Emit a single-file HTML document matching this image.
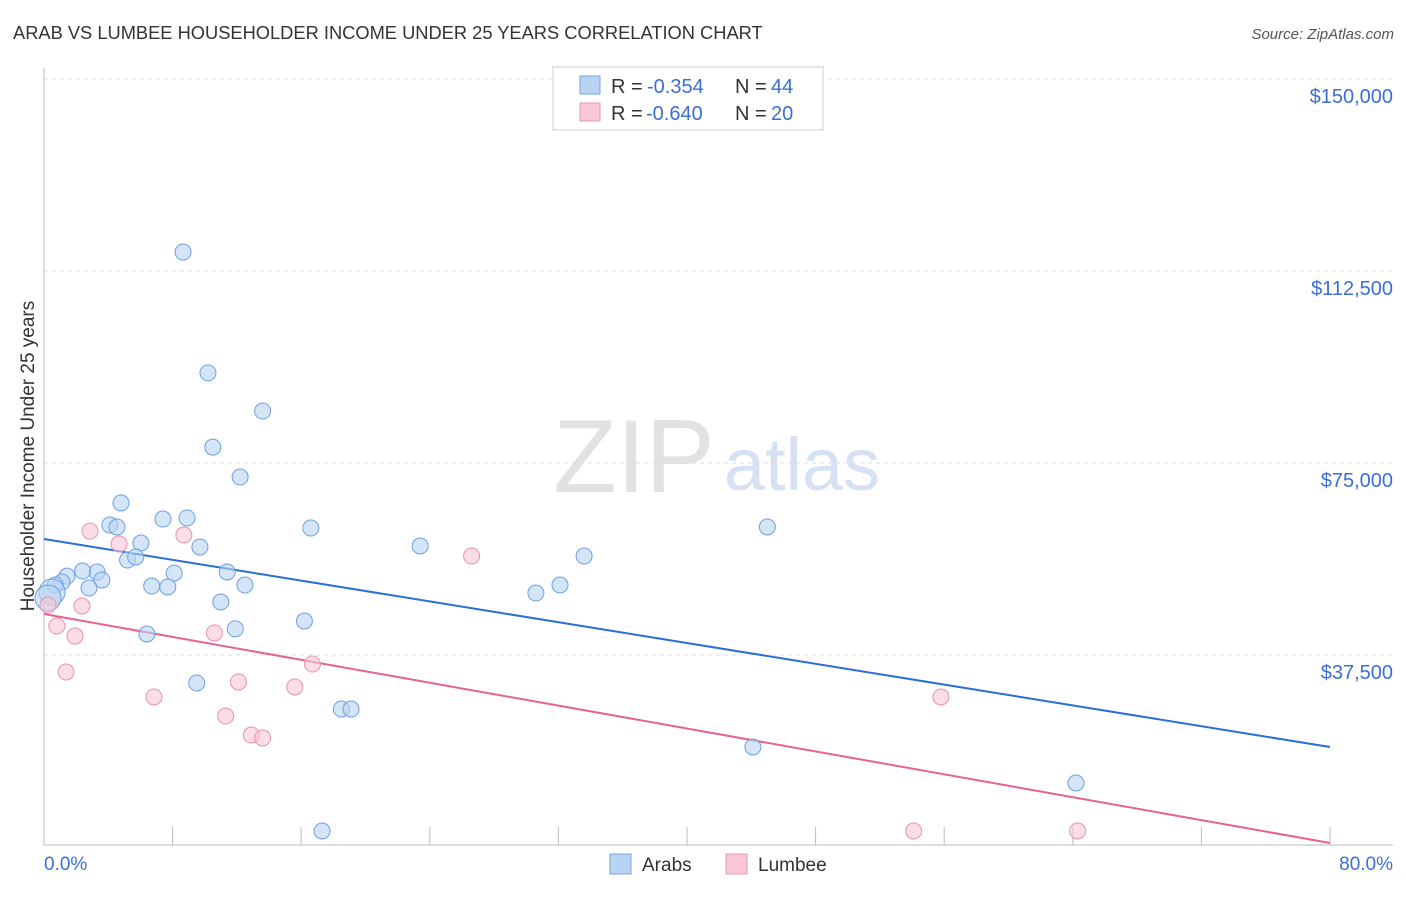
<!DOCTYPE html>
<html><head><meta charset="utf-8"><style>
body{margin:0;background:#fff;font-family:"Liberation Sans",sans-serif;}
svg text{font-family:"Liberation Sans",sans-serif;}
</style></head><body>
<svg id="chart" width="1406" height="892">
<text x="13" y="39" font-size="18.3" fill="#333">ARAB VS LUMBEE HOUSEHOLDER INCOME UNDER 25 YEARS CORRELATION CHART</text>
<text x="1394" y="39" font-size="15" fill="#555" text-anchor="end" font-style="italic">Source: ZipAtlas.com</text>
<text transform="translate(34,456) rotate(-90)" font-size="19" fill="#333" text-anchor="middle">Householder Income Under 25 years</text>
<g><text x="634" y="492" font-size="104" fill="#e2e2e2" font-family="Liberation Serif" text-anchor="middle">ZIP</text><text x="802" y="490" font-size="74" fill="#d6e2f3" text-anchor="middle">atlas</text></g>
<g id="grid"></g><g id="axes"></g><g id="lines"></g><g id="pts"></g>
<g>
<rect x="553" y="67" width="270" height="63" fill="#fff" stroke="#ccc"/>
<rect x="580" y="76" width="20" height="18" fill="#b8d3f4" stroke="#7aa6e0"/>
<text x="611" y="93" font-size="20" fill="#333">R =</text><text x="647" y="93" font-size="20" fill="#3b6fd4">-0.354</text>
<text x="735" y="93" font-size="20" fill="#333">N =</text><text x="771" y="93" font-size="20" fill="#3b6fd4">44</text>
<rect x="580" y="103" width="20" height="18" fill="#f8c6d6" stroke="#e899b3"/>
<text x="611" y="120" font-size="20" fill="#333">R =</text><text x="646" y="120" font-size="20" fill="#3b6fd4">-0.640</text>
<text x="735" y="120" font-size="20" fill="#333">N =</text><text x="771" y="120" font-size="20" fill="#3b6fd4">20</text>
</g>
<g>
<rect x="610" y="854" width="21" height="20" fill="#b8d3f4" stroke="#7aa6e0"/>
<text x="642" y="871" font-size="19" fill="#333">Arabs</text>
<rect x="726" y="854" width="21" height="20" fill="#f8c6d6" stroke="#e899b3"/>
<text x="758" y="871" font-size="19" fill="#333">Lumbee</text>
</g>
</svg>
<script>
const yTicks=[37500,75000,112500,150000];
const yTickLabels=["$37,500","$75,000","$112,500","$150,000"];
const arabX=[8.65,10.2,13.6,10.5,12.2,4.79,4.1,4.54,7.4,8.9,6.03,9.7,16.6,23.4,33.6,45.0,5.2,5.7,11.4,8.1,3.3,2.4,1.43,3.6,1.12,0.7,0.5,2.8,6.7,7.7,12.5,30.6,32.1,11.0,11.9,6.4,16.2,9.5,18.5,19.1,44.1,64.2,17.3,0.25];
const arabY=[116200,92600,85150,78100,72260,67200,62900,62500,64060,64260,59370,58600,62300,58800,56830,62500,56050,56640,53700,53500,53700,53900,52900,52150,51750,51170,49800,50580,50970,50780,51170,49600,51170,47850,42600,41600,44140,32030,26950,26950,19530,12500,3125,48630];
const lumX=[2.86,4.67,8.7,26.6,2.36,0.25,0.8,1.93,10.6,1.37,16.7,12.1,15.6,6.84,11.3,12.9,13.6,55.8,54.1,64.3];
const lumY=[61700,59170,60930,56830,47070,47260,43160,41200,41800,34180,35740,32230,31250,29300,25580,21870,21290,29300,3125,3125];
const arabTrend=[60150,19530];
const lumTrend=[45500,780];
const X0=44,X1=1330,Y0=847,PPU=192/37500;
const sx=v=>X0+(X1-X0)*v/80, sy=v=>Y0-v*PPU;
const NS="http://www.w3.org/2000/svg";
function mk(t,a,p){const e=document.createElementNS(NS,t);for(const k in a)e.setAttribute(k,a[k]);p.appendChild(e);return e;}
const grid=document.getElementById('grid'),axes=document.getElementById('axes');
yTicks.forEach((v,i)=>{
 const l=mk('line',{x1:44,x2:1393,y1:sy(v),y2:sy(v),stroke:'#ddd','stroke-dasharray':'4,4'},grid);
 
 
 const t=mk('text',{x:1393,y:sy(v)+24,'font-size':20,fill:'#3b6fd4','text-anchor':'end'},axes);
 t.textContent=yTickLabels[i];
 
 
});
mk('line',{x1:44,x2:44,y1:68,y2:845,stroke:'#bbb'},axes);
mk('line',{x1:44,x2:1393,y1:845,y2:845,stroke:'#bbb'},axes);
for(let i=1;i<=10;i++)mk('line',{x1:sx(i*8),x2:sx(i*8),y1:827,y2:845,stroke:'#bbb'},axes);
const xl=mk('text',{x:44,y:870,'font-size':19,fill:'#3b6fd4'},axes);xl.textContent='0.0%';


const xr=mk('text',{x:1393,y:870,'font-size':19,fill:'#3b6fd4','text-anchor':'end'},axes);xr.textContent='80.0%';


const pts=document.getElementById('pts');
function dots(X,Y,fill,stroke,name){X.forEach((x,i)=>{const r=(x<1&&Math.abs(Y[i]-49000)<1500)?13:8;const c=mk('circle',{cx:sx(x),cy:sy(Y[i]),r:r,fill:fill,'fill-opacity':0.6,stroke:stroke,'stroke-width':1},pts);
 
 });}
dots(arabX,arabY,'#b8d3f4','#6d9fe0','arab-point');
dots(lumX,lumY,'#f8c6d6','#e593ae','lumbee-point');
const lines=document.getElementById('lines');
const bl=mk('line',{x1:sx(0),y1:sy(arabTrend[0]),x2:sx(80),y2:sy(arabTrend[1]),stroke:'#2a6fd6','stroke-width':2},lines);


const pl=mk('line',{x1:sx(0),y1:sy(lumTrend[0]),x2:sx(80),y2:sy(lumTrend[1]),stroke:'#e4638f','stroke-width':2},lines);


</script>
</body></html>
